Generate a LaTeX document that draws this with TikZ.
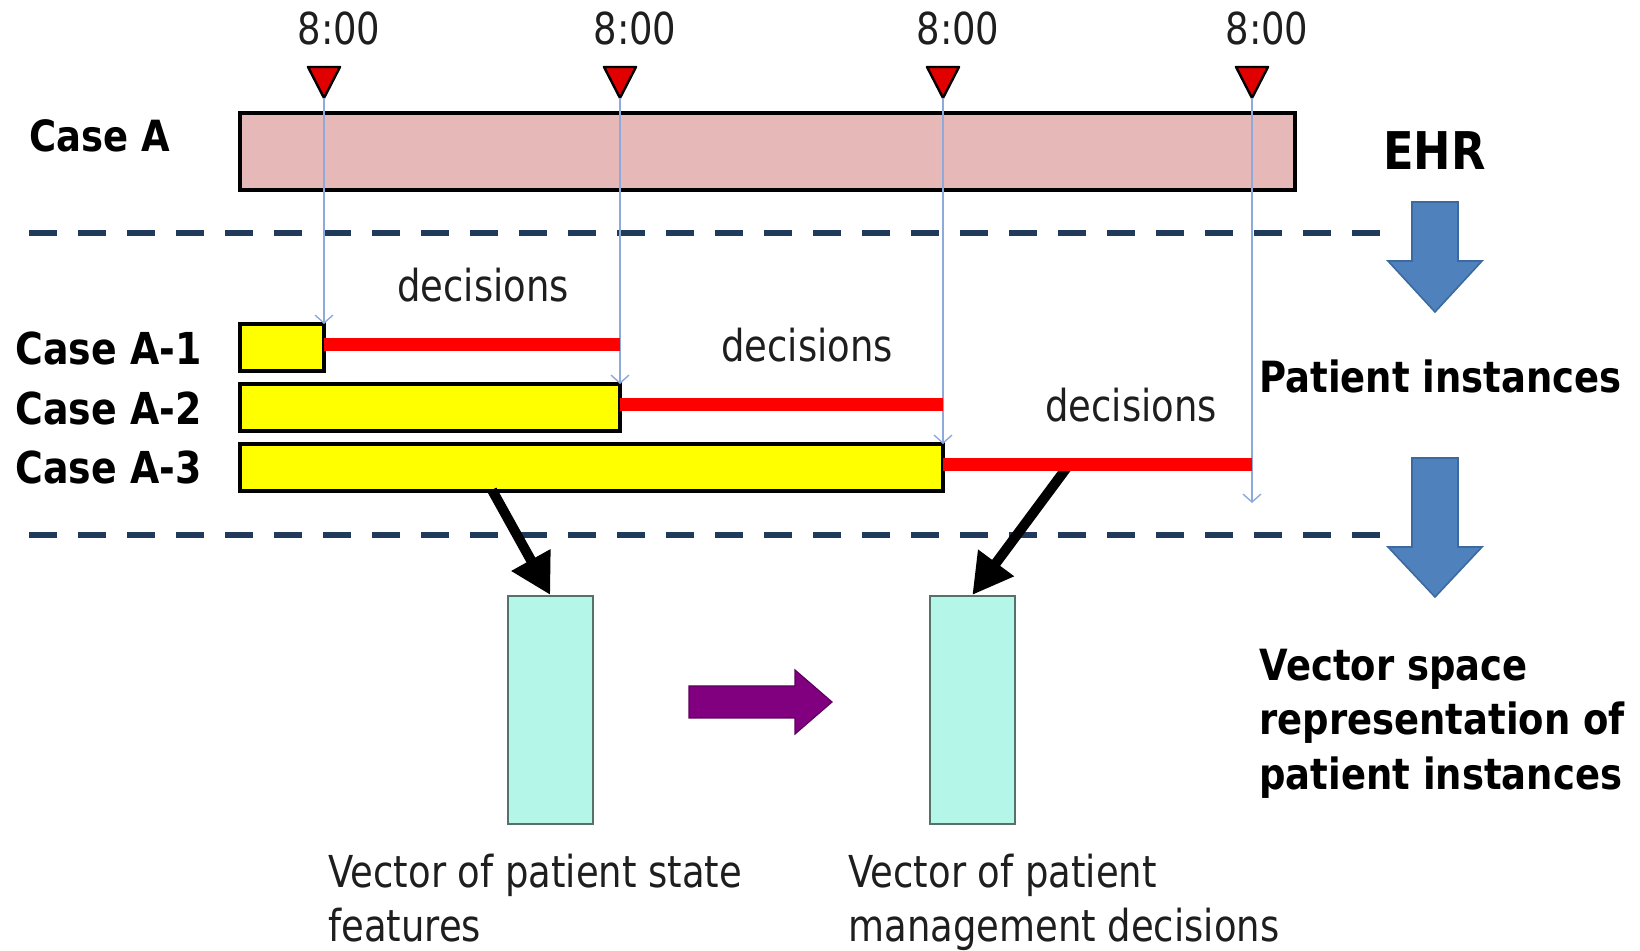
\documentclass[tikz,border=0pt]{standalone}
\usepackage{fontspec}
\setmainfont{DejaVu Sans}[FakeStretch=0.84,BoldFeatures={FakeStretch=0.86}]
\usetikzlibrary{arrows.meta}

\definecolor{ehrPink}{HTML}{E6B8B7}
\definecolor{barYellow}{HTML}{FFFF00}
\definecolor{vecTeal}{HTML}{B4F7E8}
\definecolor{vecEdge}{HTML}{56706A}
\definecolor{tickRed}{HTML}{E00000}
\definecolor{declRed}{HTML}{FF0000}
\definecolor{guideBlue}{HTML}{8EAADB}
\definecolor{sepNavy}{HTML}{1F3A5A}
\definecolor{stepBlue}{HTML}{4F81BD}
\definecolor{stepEdge}{HTML}{3C6A9E}
\definecolor{flowPurple}{HTML}{800080}
\definecolor{flowEdge}{HTML}{5E005E}
\definecolor{inkGray}{HTML}{1E1E1E}

\begin{document}
\begin{tikzpicture}[x=0.5pt,y=-0.5pt,
  lbl/.style={inner sep=0pt,text=inkGray,font=\fontsize{22}{27}\selectfont},
  blbl/.style={inner sep=0pt,font=\fontsize{22}{27}\selectfont\bfseries},
  slbl/.style={inner sep=0pt,font=\fontsize{21.5}{27}\selectfont\bfseries},
  box/.style={draw=black,line width=1.9pt,anchor=north west,inner sep=0pt,outer sep=0pt},
  ehrbar/.style={box,fill=ehrPink,minimum width=527.5pt,minimum height=38.5pt},
  casebar/.style={box,fill=barYellow,minimum height=23.5pt},
  vecbox/.style={draw=vecEdge,line width=0.8pt,fill=vecTeal,anchor=north west,inner sep=0pt,
                 minimum width=42.5pt,minimum height=114pt},
  marker/.style={draw=black,line width=1.2pt,fill=tickRed,line join=round},
  guide/.style={draw=guideBlue,line width=0.7pt,-{Straight Barb[length=4pt,width=9pt]}},
  decline/.style={draw=declRed,line width=6.5pt},
  sep/.style={draw=sepNavy,line width=3pt,dash pattern=on 14pt off 10.5pt},
  feed/.style={draw=black,line width=5pt,-{Triangle[length=20pt,width=21pt]}},
  stepdown/.style={fill=stepBlue,draw=stepEdge,line width=0.8pt},
  flow/.style={fill=flowPurple,draw=flowEdge,line width=0.6pt}
]
\useasboundingbox (0,0) rectangle (1640,951);

% section separators
\coordinate (sepA) at (29,233);   \coordinate (sepB) at (1391,233);
\coordinate (sepC) at (29,535);   \coordinate (sepD) at (1391,535);
\draw[sep] (sepA) -- (sepB);
\draw[sep] (sepC) -- (sepD);

% the whole record and its three cut-off instances
\node[ehrbar] (ehr) at (240,113) {};
\node[casebar,minimum width=42pt]    (a1) at (240,324) {};
\node[casebar,minimum width=190pt]   (a2) at (240,384) {};
\node[casebar,minimum width=351.5pt] (a3) at (240,444) {};

% vector representations
\node[vecbox] (v1) at (507,595) {};
\node[vecbox] (v2) at (929,595) {};

% daily 8:00 cut points
\foreach \i/\x in {1/324,2/620,3/943,4/1252}{
  \draw[marker] (\x-16,67) -- (\x+16,67) -- (\x,98) -- cycle;
  \coordinate (t\i) at (\x,98);
  \node[lbl,anchor=base] (time\i) at (\x+15,45) {8:00};
}

\coordinate (g4) at (1252,503);
\draw[guide] (t1) -- (t1 |- a1.north);
\draw[guide] (t2) -- (t2 |- a2.north);
\draw[guide] (t3) -- (t3 |- a3.north);
\draw[guide] (t4) -- (g4);

% feature and decision extraction
\coordinate (f1) at (492,490);
\coordinate (f2) at (1068,466);
\draw[feed] (f1) -- (v1.north);
\draw[feed] (f2) -- (v2.north);

% decision windows until the next cut point
\path ([yshift=1.3pt]a1.east) coordinate (d1);
\path ([yshift=1.6pt]a2.east) coordinate (d2);
\path ([yshift=1.3pt]a3.east) coordinate (d3);
\draw[decline] (d1) -- (d1 -| t2);
\draw[decline] (d2) -- (d2 -| t3);
\draw[decline] (d3) -- (d3 -| t4);

% state -> decisions
\draw[flow] (689,686) -- (795,686) -- (795,670) -- (832,702) -- (795,734) -- (795,718) -- (689,718) -- cycle;

% stage arrows
\draw[stepdown] (1412,202) -- (1458,202) -- (1458,261) -- (1482,261) -- (1435,312)
  -- (1388,261) -- (1412,261) -- cycle;
\draw[stepdown] (1412,458) -- (1458,458) -- (1458,547) -- (1482,547) -- (1435,597)
  -- (1388,547) -- (1412,547) -- cycle;

% labels
\node[slbl,anchor=base west] (caseA) at (29,152) {Case A};
\node[blbl,anchor=base west] (case1) at (15,365) {Case A-1};
\node[blbl,anchor=base west] (case2) at (15,425) {Case A-2};
\node[blbl,anchor=base west] (case3) at (15,484) {Case A-3};

\node[blbl,anchor=base west,font=\fontsize{26}{31}\selectfont\bfseries] (ehrlbl) at (1383,170) {EHR};
\node[slbl,anchor=base west] (pilbl) at (1259,393) {Patient instances};
\node[slbl,anchor=base west] (vs1) at (1259,681) {Vector space};
\node[slbl,anchor=base west] (vs2) at (1259,735) {representation of};
\node[slbl,anchor=base west] (vs3) at (1259,790) {patient instances};

\node[lbl,anchor=base west] (dec1) at (397,302) {decisions};
\node[lbl,anchor=base west] (dec2) at (721,362) {decisions};
\node[lbl,anchor=base west] (dec3) at (1045,422) {decisions};

\node[lbl,anchor=base west] (s1) at (328,887) {Vector of patient state};
\node[lbl,anchor=base west] (s2) at (328,942) {features};
\node[lbl,anchor=base west] (m1) at (848,887) {Vector of patient};
\node[lbl,anchor=base west] (m2) at (848,942) {management decisions};
\end{tikzpicture}
\end{document}
